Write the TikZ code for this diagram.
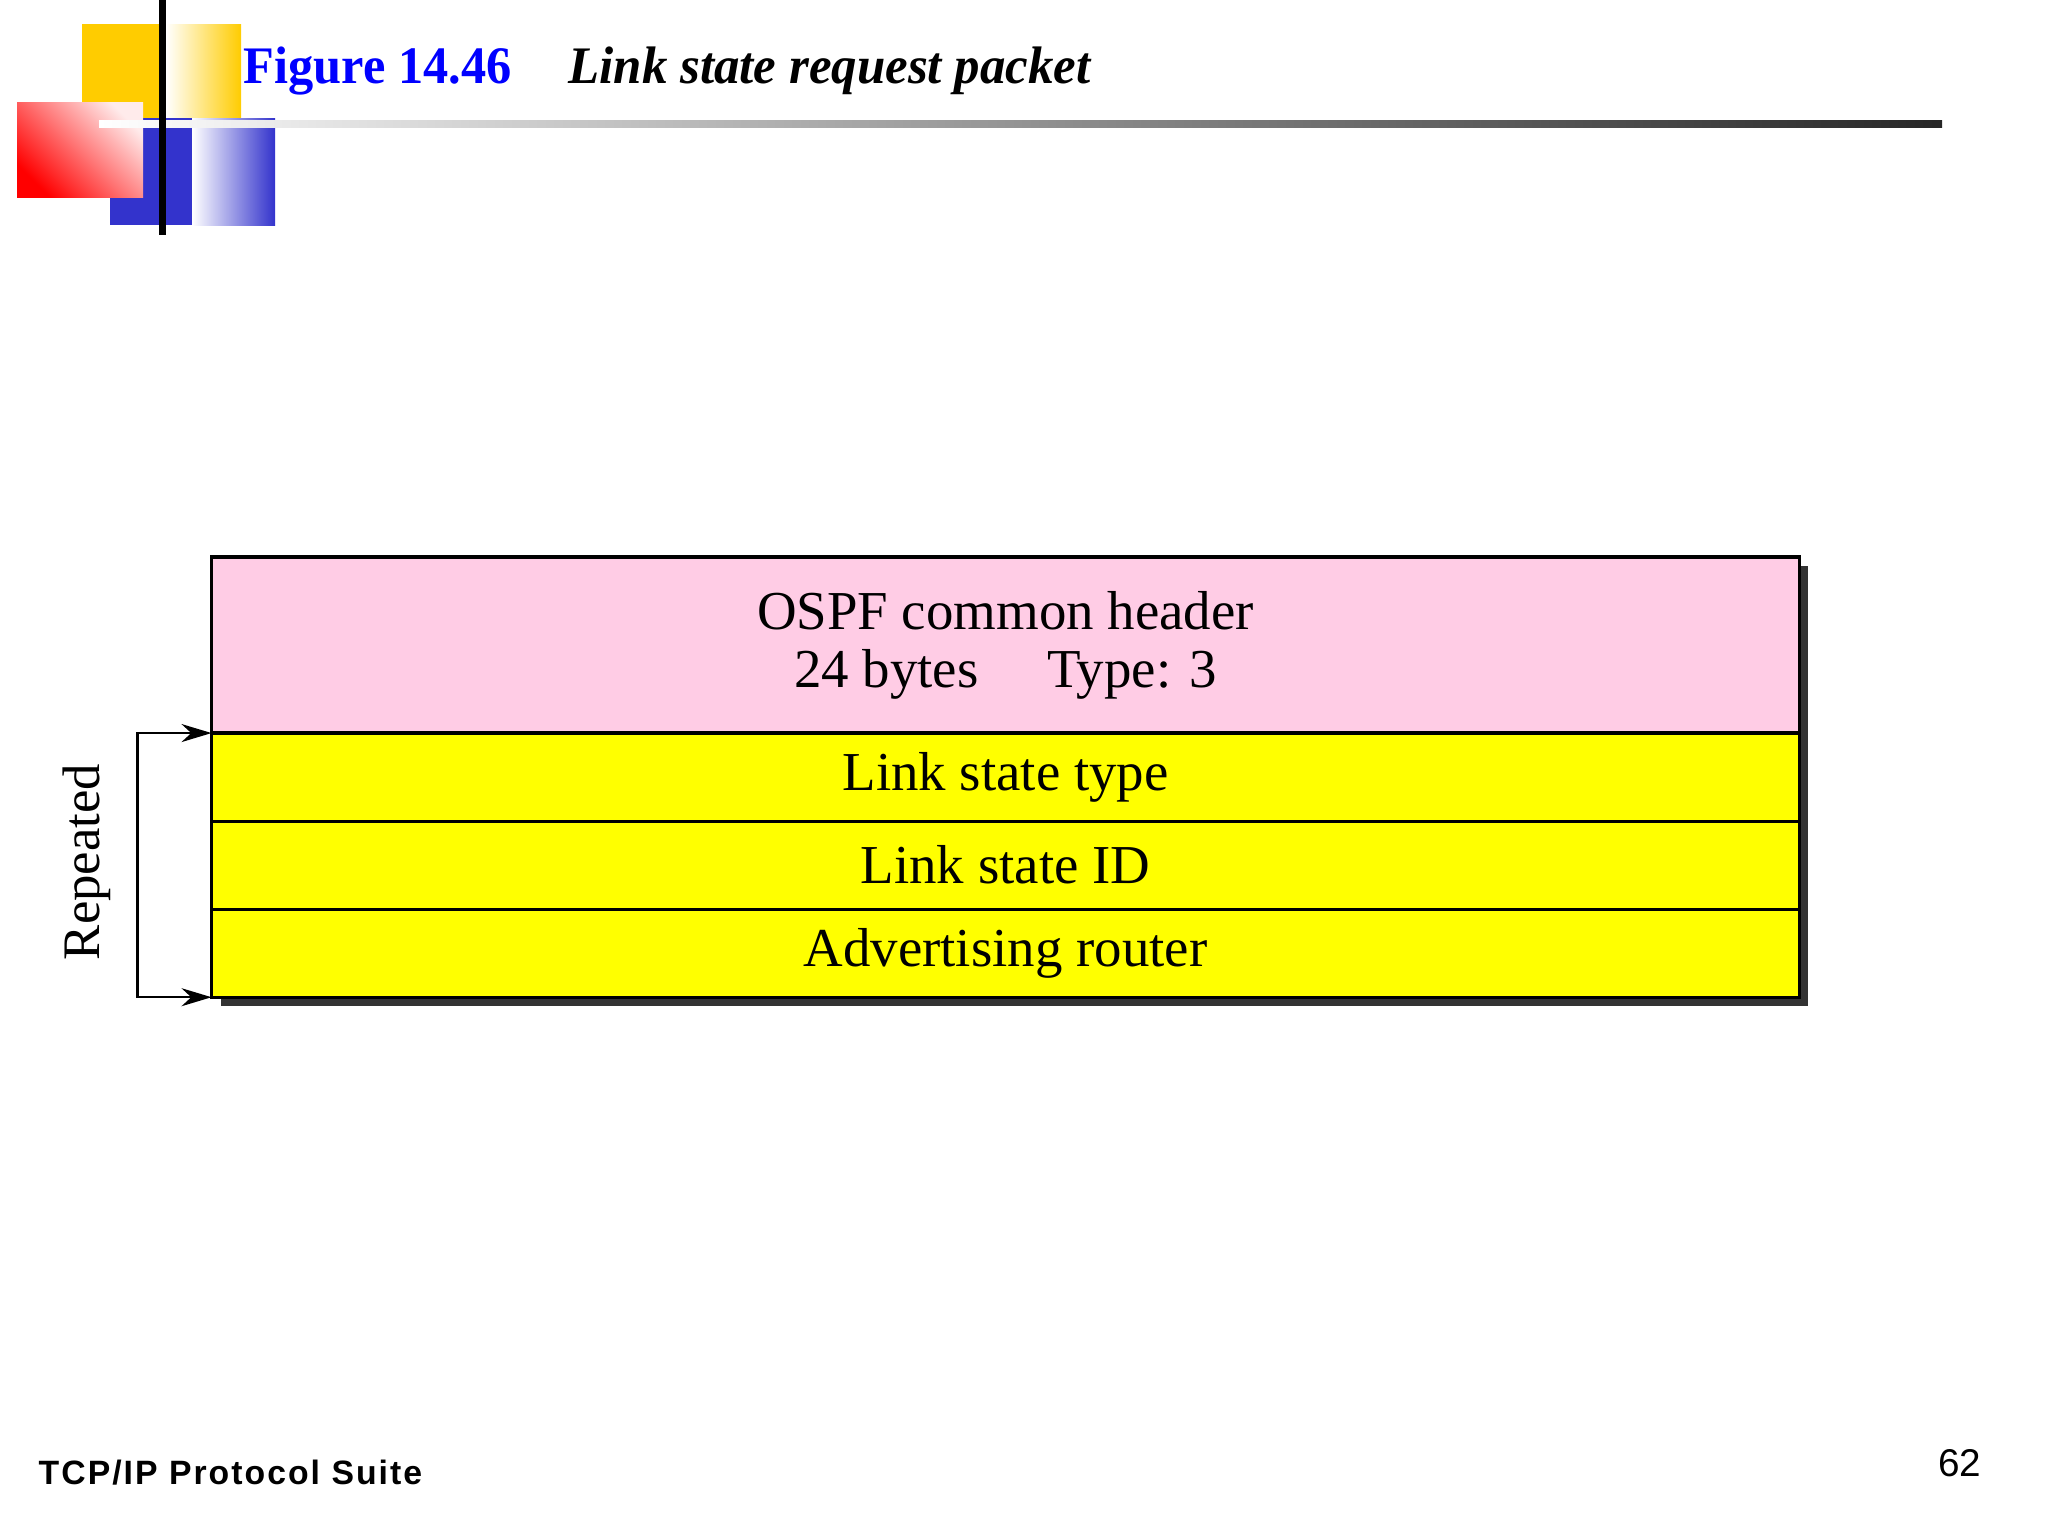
\documentclass[tikz,border=0pt]{standalone}
\usepackage{graphicx}
\usepackage{fontspec}
\setmainfont{Liberation Serif}
\setsansfont{Liberation Sans}
\usetikzlibrary{positioning,arrows.meta,backgrounds}

\definecolor{logogold}{HTML}{FFCC00}
\definecolor{logoblue}{HTML}{3333CC}
\definecolor{hdrpink}{HTML}{FFCCE5}
\definecolor{rowyellow}{HTML}{FFFF00}
\definecolor{titleblue}{HTML}{0000FF}

\begin{document}
\begin{tikzpicture}[x=0.01cm,y=-0.01cm,
    field/.style={draw,line width=0.9pt,outer sep=0pt,inner sep=0pt,
      minimum width=15.87cm,minimum height=0.88cm,fill=rowyellow,
      font=\fontsize{15.6}{16.5}\selectfont},
    hdrbox/.style={field,minimum height=1.76cm,fill=hdrpink,align=center},
    rep/.style={line width=0.6pt,{Stealth[length=0.3cm,width=0.18cm]}-{Stealth[length=0.3cm,width=0.18cm]}},
    titletext/.style={anchor=base west,inner sep=0pt,font=\fontsize{15}{18}\selectfont\bfseries}]
    \useasboundingbox (0,0) rectangle (2048,1536);

    % Logo
    \fill[logogold] (82,24) rectangle (162,118);
    \shade[left color=white,right color=logogold] (166,24) rectangle (241,118);
    \fill[logoblue] (110,118) rectangle (192,225);
    \shade[left color=white,right color=logoblue] (192,118) rectangle (275,225);
    \shade[top color=red!8!white,bottom color=red,shading angle=-45] (17,102) rectangle (143,197);
    \shade[left color=white,middle color=black!40,right color=black!85] (99,120) rectangle (1942,127);
    \draw[line width=0.07cm] (162.5,0) -- (162.5,235);

    % Titel
    \node[titletext,text=titleblue] (fig) at (243,83) {\scalebox{0.955}[1]{Figure 14.46}};
    \node[titletext] (title) at (568,83) {\scalebox{0.965}[1]{\itshape Link state request packet}};

    % Felder
    \node[hdrbox] (hdr) at (1005.5,645) {OSPF common header\\24 bytes\hspace{1.25em}Type: 3};
    \node[field,below=0pt of hdr] (lstype) {Link state type};
    \node[field,below=0pt of lstype] (lsid) {Link state ID};
    \node[field,below=0pt of lsid] (adv) {Advertising router};

    % Schatten
    \begin{scope}[on background layer]
      \fill[black!80] ([shift={(9,9)}]hdr.north west) rectangle ([shift={(9,9)}]adv.south east);
    \end{scope}

    % Wiederholung
    \draw[rep] (lstype.north west) -- ++(-74,0) |- (adv.south west);
    \node[rotate=90,font=\fontsize{15}{18}\selectfont] (repeated) at (87,862) {Repeated};

    % Fusszeile
    \node[anchor=base west,inner sep=0pt,font=\sffamily\bfseries\fontsize{9.6}{12}\selectfont\addfontfeatures{LetterSpace=6}] (suite) at (38,1484) {TCP/IP Protocol Suite};
    \node[anchor=base east,inner sep=0pt,font=\sffamily\fontsize{11}{13}\selectfont] (page) at (1982,1476) {62};
\end{tikzpicture}
\end{document}
